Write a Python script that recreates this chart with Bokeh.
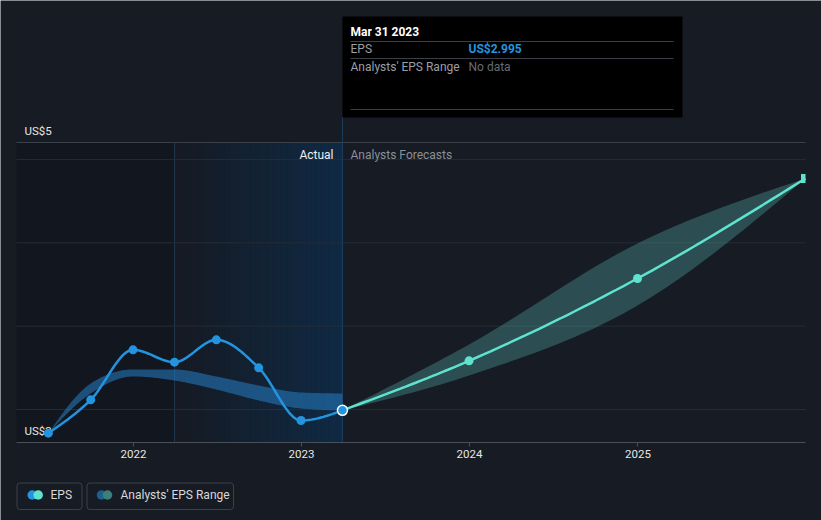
import numpy as np
import pandas as pd
from bokeh.plotting import figure
from bokeh.models import Range1d, FixedTicker, DatetimeTickFormatter, DatetimeAxis
from bokeh.core.properties import value
from bokeh.embed import file_html
from bokeh.resources import INLINE

# ---------------- data ----------------
actual_dates = ["2021-06-30", "2021-09-30", "2021-12-31", "2022-03-31",
                "2022-06-30", "2022-09-30", "2022-12-31", "2023-03-31"]
actual_eps = [2.858, 3.058, 3.358, 3.284, 3.418, 3.250, 2.934, 2.995]

past_range_low = [2.858, 3.096, 3.198, 3.174, 3.120, 3.054, 3.006, 2.994]
past_range_high = [2.858, 3.156, 3.240, 3.240, 3.198, 3.144, 3.102, 3.096]

forecast_dates = ["2023-03-31", "2023-12-31", "2024-12-31", "2025-12-31"]
forecast_eps = [2.995, 3.292, 3.786, 4.386]
forecast_low = [2.995, 3.204, 3.624, 4.386]
forecast_high = [2.995, 3.390, 3.996, 4.386]

x_tick_dates = ["2022-01-01", "2023-01-01", "2024-01-01", "2025-01-01"]
y_tick_labels = ["US$3", "US$5"]
grid_values = [3.0, 3.5, 4.0, 4.5]

tooltip_date = "Mar 31 2023"
tooltip_rows = ["EPS", "Analysts' EPS Range"]
tooltip_vals = ["US$2.995", "No data"]
legend_labels = ["EPS", "Analysts' EPS Range"]

# ---------------- style ----------------
BG = "#161b24"
BLUE = "#2394df"
CYAN = "#5fe3cf"
FONT = value("Roboto")
W, H = 821, 520

# page-pixel geometry helpers (scale definition only)
DAY_MS = 86400000.0
PX_PER_DAY = 168.0 / 365.0


def ms(d):
    return pd.Timestamp(d).value / 1e6


def X(px):
    return ms("2022-01-01") + (px - 133.0) / PX_PER_DAY * DAY_MS


def Y(py):
    return 3.0 + (409.0 - py) / 166.7


def monotone(xs, ys, n=24):
    xs = np.asarray(xs, float)
    ys = np.asarray(ys, float)
    k = len(xs)
    h = np.diff(xs)
    s = np.diff(ys) / h
    t = np.zeros(k)
    for i in range(1, k - 1):
        h0, h1 = h[i - 1], h[i]
        s0, s1 = s[i - 1], s[i]
        p_ = (s0 * h1 + s1 * h0) / (h0 + h1)
        t[i] = (np.sign(s0) + np.sign(s1)) * min(abs(s0), abs(s1), 0.5 * abs(p_))
    if k > 2:
        t[0] = (3 * s[0] - t[1]) / 2
        t[-1] = (3 * s[-1] - t[-2]) / 2
    else:
        t[0] = t[-1] = s[0]
    ox, oy = [xs[0]], [ys[0]]
    u = np.linspace(0, 1, n + 1)[1:]
    for i in range(k - 1):
        dx = h[i] / 3
        p0x, p0y = xs[i], ys[i]
        p1x, p1y = xs[i] + dx, ys[i] + dx * t[i]
        p2x, p2y = xs[i + 1] - dx, ys[i + 1] - dx * t[i + 1]
        p3x, p3y = xs[i + 1], ys[i + 1]
        a, b, c, d = (1 - u) ** 3, 3 * (1 - u) ** 2 * u, 3 * (1 - u) * u ** 2, u ** 3
        ox.extend(a * p0x + b * p1x + c * p2x + d * p3x)
        oy.extend(a * p0y + b * p1y + c * p2y + d * p3y)
    return np.array(ox), np.array(oy)


ax = [ms(d) for d in actual_dates]
fx = [ms(d) for d in forecast_dates]

p = figure(width=W, height=H,
           x_range=Range1d(X(0), X(W)), y_range=Range1d(Y(H), Y(0)),
           x_axis_location=None, y_axis_location=None,
           toolbar_location=None, output_backend="svg", min_border=0,
           background_fill_color=BG, border_fill_color=BG, outline_line_color=None)
p.grid.visible = False

xl, xr = X(16), X(805)
ybot = Y(442)
top_line = Y(142)
split_start = ms("2022-03-31")
now = ms(actual_dates[-1])

# past shaded (darker) region
p.quad(left=[xl], right=[split_start], bottom=[ybot], top=[top_line],
       fill_color="#000000", fill_alpha=0.16, line_color=None)
# last-12-months highlight with gradient
N = 60
edges = np.linspace(split_start, now, N + 1)
alphas = np.linspace(0.0, 0.5, N)
p.quad(left=edges[:-1], right=edges[1:], bottom=[ybot] * N, top=[top_line] * N,
       fill_color="#0a3a66", fill_alpha=alphas, line_color=None)
p.segment(x0=[split_start], x1=[split_start], y0=[ybot], y1=[top_line],
          line_color="#1f3750", line_width=1)

# gridlines
p.segment(x0=[xl] * len(grid_values), x1=[xr] * len(grid_values),
          y0=grid_values, y1=grid_values, line_color="#262c36", line_width=1)
p.segment(x0=[xl], x1=[xr], y0=[top_line], y1=[top_line], line_color="#3a414b", line_width=1)

# now line
p.segment(x0=[now], x1=[now], y0=[ybot], y1=[Y(117)], line_color="#1c3d60", line_width=1)

# axis baseline
p.segment(x0=[xl], x1=[xr], y0=[ybot], y1=[ybot], line_color="#4a5058", line_width=1)

# y labels
p.text(x=[X(24), X(24)], y=[Y(430), Y(130.5)], text=y_tick_labels,
       text_font=FONT, text_font_size="11.5px", text_color="#e6e6e6",
       text_baseline="middle", text_align="left")

# section labels
p.text(x=[X(333)], y=[Y(154)], text=["Actual"], text_font=FONT, text_font_size="12px",
       text_color="#f0f0f0", text_baseline="middle", text_align="right")
p.text(x=[X(350)], y=[Y(154)], text=["Analysts Forecasts"], text_font=FONT,
       text_font_size="12px", text_color="#8b9097", text_baseline="middle", text_align="left")

# past analyst range band
bx, blo = monotone(ax, past_range_low)
_, bhi = monotone(ax, past_range_high)
p.varea(x=bx, y1=blo, y2=bhi, fill_color="#2479bd", fill_alpha=0.58)

# forecast range band
fbx, flo = monotone(fx, forecast_low)
_, fhi = monotone(fx, forecast_high)
p.varea(x=fbx, y1=flo, y2=fhi, fill_color="#5fc8be", fill_alpha=0.3)

# lines
lx, ly = monotone(ax, actual_eps)
p.line(lx, ly, line_color=BLUE, line_width=2.5)
flx, fly = monotone(fx, forecast_eps)
p.line(flx, fly, line_color=CYAN, line_width=2.5)

p.scatter(ax[:-1], actual_eps[:-1], size=9, fill_color=BLUE, line_color=None)
p.scatter(fx[1:-1], forecast_eps[1:-1], size=9, fill_color=CYAN, line_color=None)
p.quad(left=[fx[-1] - 4.5 / PX_PER_DAY * DAY_MS], right=[xr],
       bottom=[forecast_eps[-1] - 4.5 / 166.7], top=[forecast_eps[-1] + 4.5 / 166.7],
       fill_color=CYAN, line_color=None)
p.scatter([ax[-1]], [actual_eps[-1]], size=10, fill_color=BLUE, line_color="#ffffff",
          line_width=1.5)

# tooltip box
p.quad(left=[now], right=[X(682)], bottom=[Y(117)], top=[Y(16)],
       fill_color="#000000", line_color=None)
p.segment(x0=[X(350)] * 3, x1=[X(673)] * 3, y0=[Y(41), Y(58), Y(109)],
          y1=[Y(41), Y(58), Y(109)], line_color="#3a3f47", line_width=1)
p.text(x=[X(350)], y=[Y(31)], text=[tooltip_date], text_font=FONT, text_font_size="12px",
       text_color="#ffffff", text_font_style="bold", text_baseline="middle")
p.text(x=[X(350), X(350)], y=[Y(48.5), Y(66.5)], text=tooltip_rows, text_font=FONT,
       text_font_size="12px", text_color="#9a9fa6", text_baseline="middle")
p.text(x=[X(468)], y=[Y(48.5)], text=[tooltip_vals[0]], text_font=FONT, text_font_size="12px",
       text_color=BLUE, text_font_style="bold", text_baseline="middle")
p.text(x=[X(468)], y=[Y(66.5)], text=[tooltip_vals[1]], text_font=FONT, text_font_size="12px",
       text_color="#676c73", text_baseline="middle")

# x axis (drawn at the baseline inside the plot)
xaxis = DatetimeAxis(fixed_location=ybot)
xaxis.ticker = FixedTicker(ticks=[ms(d) for d in x_tick_dates])
xaxis.formatter = DatetimeTickFormatter(years="%Y", months="%Y", days="%Y", hours="%Y",
                                        minutes="%Y", seconds="%Y", milliseconds="%Y",
                                        microseconds="%Y", hourmin="%Y", minsec="%Y")
xaxis.axis_line_color = None
xaxis.major_tick_line_color = "#4a5058"
xaxis.major_tick_in = 0
xaxis.major_tick_out = 4
xaxis.minor_tick_line_color = None
xaxis.major_label_text_color = "#e6e6e6"
xaxis.major_label_text_font = "Roboto"
xaxis.major_label_text_font_size = "11.5px"
xaxis.major_label_standoff = 3
p.add_layout(xaxis, "below")

# legend (two boxed items below the axis)
p.quad(left=[X(16.5), X(86.5)], right=[X(81.5), X(233)], top=[Y(482.5), Y(482.5)],
       bottom=[Y(509), Y(509)], fill_color=None, line_color="#3b4049", line_width=1,
       border_radius=3)
p.scatter([X(31.7), X(37.7)], [Y(494.5)] * 2, size=9.5, fill_color=[BLUE, CYAN],
          line_color=None)
p.scatter([X(101), X(107)], [Y(494.5)] * 2, size=9.5, fill_color=["#1f5f90", "#3d7f79"],
          line_color=None)
p.text(x=[X(50), X(120)], y=[Y(494.5)] * 2, text=legend_labels, text_font=FONT,
       text_font_size="12px", text_color="#d8d8d8", text_baseline="middle")

open("out.html", "w").write(file_html(p, INLINE))
